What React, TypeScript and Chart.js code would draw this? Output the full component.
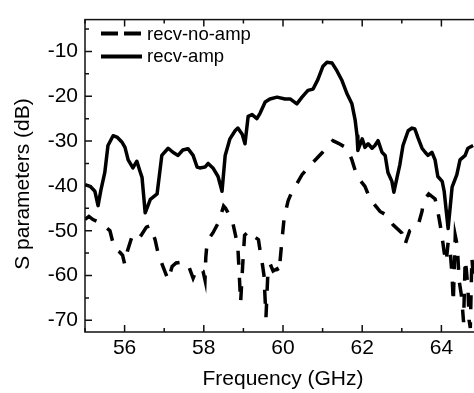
import React, { useEffect, useRef } from "react";
import { Chart, registerables } from "chart.js";

Chart.register(...registerables);

// ---- data ----
const FREQ_AMP = [
  55.0, 55.13, 55.25, 55.33, 55.4, 55.5, 55.58, 55.71, 55.82, 55.93, 56.01, 56.09, 56.21, 56.31, 56.38, 56.44,
  56.52, 56.65, 56.82, 56.94, 57.1, 57.22, 57.35, 57.47, 57.6, 57.73, 57.83, 57.9, 58.03, 58.11, 58.23, 58.36,
  58.46, 58.54, 58.66, 58.79, 58.86, 58.97, 59.04, 59.12, 59.22, 59.34, 59.42, 59.55, 59.67, 59.85, 60.05,
  60.18, 60.35, 60.48, 60.63, 60.76, 60.88, 61.01, 61.11, 61.24, 61.36, 61.49, 61.62, 61.74, 61.82, 61.87,
  61.89, 62.0, 62.07, 62.15, 62.25, 62.32, 62.4, 62.5, 62.58, 62.65, 62.75, 62.8, 62.88, 62.95, 63.03, 63.16,
  63.26, 63.33, 63.41, 63.51, 63.59, 63.66, 63.76, 63.84, 63.91, 64.02, 64.07, 64.17, 64.27, 64.39, 64.47,
  64.6, 64.67, 64.8,
];
const SPAR_AMP = [
  -39.7, -40.1, -41.2, -44.4, -41.0, -37.0, -31.0, -28.8, -29.2, -30.2, -31.4, -34.2, -36.0, -34.5, -36.5, -38.1,
  -46.0, -43.0, -41.8, -33.2, -31.6, -32.5, -33.2, -32.0, -31.7, -33.2, -35.8, -36.0, -35.8, -35.0, -36.0, -37.9,
  -41.2, -33.2, -29.5, -27.7, -27.1, -28.5, -30.6, -24.5, -24.1, -25.0, -23.8, -21.3, -20.6, -20.2, -20.6,
  -20.6, -21.7, -20.2, -18.7, -18.4, -16.3, -13.3, -12.4, -12.6, -14.3, -16.5, -19.5, -21.7, -25.2, -28.8,
  -32.1, -29.5, -31.4, -30.6, -31.6, -31.0, -29.9, -32.5, -33.2, -37.0, -39.0, -41.4, -38.1, -35.3, -31.0, -27.7,
  -27.1, -27.3, -29.3, -31.6, -32.5, -33.2, -32.5, -34.2, -37.9, -39.0, -41.2, -49.5, -40.3, -37.5, -34.2,
  -33.2, -31.6, -31.0,
];
const FREQ_NOAMP = [
  55.0, 55.1, 55.2, 55.33, 55.45, 55.63, 55.7, 55.76, 55.88, 55.95, 56.0, 56.07, 56.18, 56.3, 56.42, 56.55,
  56.64, 56.77, 56.85, 56.97, 57.1, 57.2, 57.3, 57.45, 57.6, 57.73, 57.83, 57.92, 57.98, 58.03, 58.05, 58.08,
  58.15, 58.23, 58.38, 58.5, 58.55, 58.72, 58.8, 58.86, 58.88, 58.93, 58.98, 59.03, 59.15, 59.3, 59.38, 59.43,
  59.48, 59.52, 59.57, 59.62, 59.68, 59.75, 59.85, 59.9, 59.97, 60.03, 60.13, 60.22, 60.35, 60.48, 60.73, 61.0,
  61.26, 61.4, 61.62, 61.74, 61.87, 62.07, 62.2, 62.45, 62.63, 62.78, 63.0, 63.08, 63.2, 63.33, 63.4, 63.51,
  63.55, 63.68, 63.84, 63.91, 63.97, 64.02, 64.07, 64.12, 64.17, 64.22, 64.27, 64.3, 64.35, 64.4, 64.45, 64.5,
  64.53, 64.56, 64.6, 64.63, 64.67, 64.7, 64.73, 64.77, 64.82,
];
const SPAR_NOAMP = [
  -47.5, -46.8, -47.5, -48.0, -48.7, -50.0, -52.5, -54.2, -54.8, -55.5, -57.4, -54.6, -51.5, -52.3, -51.0, -49.2,
  -48.9, -52.0, -55.2, -58.0, -61.0, -58.0, -57.2, -57.0, -57.5, -60.6, -58.5, -58.7, -59.0, -61.0, -56.0, -53.0,
  -51.5, -50.5, -48.0, -44.5, -45.0, -47.7, -51.0, -53.7, -57.0, -66.0, -58.0, -51.0, -50.0, -51.5, -52.0, -55.0,
  -57.5, -60.0, -69.3, -59.0, -57.5, -59.0, -58.5, -59.3, -52.5, -47.0, -43.3, -41.4, -39.5, -37.5, -35.0, -32.5,
  -29.9, -30.5, -31.6, -34.2, -37.9, -40.1, -43.0, -45.7, -46.6, -48.7, -50.5, -53.1, -50.0, -49.4, -49.2, -45.7,
  -43.3, -41.8, -42.9, -45.7, -48.7, -51.6, -54.8, -57.0, -52.6, -54.4, -60.0, -66.0, -51.1, -53.3, -61.3, -64.1,
  -67.0, -70.4, -56.5, -58.7, -62.8, -70.0, -71.7, -56.0, -62.0,
];

const SERIES_NAMES = ["recv-no-amp", "recv-amp"];
const X_TICKS = [56, 58, 60, 62, 64];
const X_MINOR = [55, 57, 59, 61, 63, 65];
const Y_TICKS = [-10, -20, -30, -40, -50, -60, -70];
const Y_MINOR = [-5, -15, -25, -35, -45, -55, -65];
const X_TITLE = "Frequency (GHz)";
const Y_TITLE = "S parameters (dB)";
const X_MIN = 55;
const X_MAX = 65;
const Y_MIN = -72.6;
const Y_MAX = -2.9;

const FONT = '"Liberation Sans", Arial, Helvetica, sans-serif';

const framePlugin = {
  id: "frameTicksLegend",
  afterDraw(chart: any) {
    const { ctx, chartArea: a, scales } = chart;
    const xs = scales.x;
    const ys = scales.y;
    ctx.save();
    ctx.strokeStyle = "#111";
    ctx.lineWidth = 1.5;
    ctx.strokeRect(a.left, a.top, a.right - a.left, a.bottom - a.top);

    const vtick = (v: number, len: number) => {
      const p = xs.getPixelForValue(v);
      ctx.beginPath();
      ctx.moveTo(p, a.bottom);
      ctx.lineTo(p, a.bottom - len);
      ctx.moveTo(p, a.top);
      ctx.lineTo(p, a.top + len);
      ctx.stroke();
    };
    const htick = (v: number, len: number) => {
      const p = ys.getPixelForValue(v);
      ctx.beginPath();
      ctx.moveTo(a.left, p);
      ctx.lineTo(a.left + len, p);
      ctx.moveTo(a.right, p);
      ctx.lineTo(a.right - len, p);
      ctx.stroke();
    };
    X_TICKS.forEach((v) => vtick(v, 7));
    X_MINOR.forEach((v) => vtick(v, 4));
    Y_TICKS.forEach((v) => htick(v, 7));
    Y_MINOR.forEach((v) => htick(v, 4));

    // axis titles
    ctx.fillStyle = "#000";
    ctx.font = `21px ${FONT}`;
    ctx.textAlign = "center";
    ctx.textBaseline = "alphabetic";
    ctx.fillText(X_TITLE, (a.left + a.right) / 2, 385);
    ctx.save();
    ctx.translate(29, 184);
    ctx.rotate(-Math.PI / 2);
    ctx.fillText(Y_TITLE, 0, 0);
    ctx.restore();

    // legend
    ctx.strokeStyle = "#000";
    ctx.lineWidth = 4;
    ctx.setLineDash([17, 6]);
    ctx.beginPath();
    ctx.moveTo(101, 33.5);
    ctx.lineTo(142, 33.5);
    ctx.stroke();
    ctx.setLineDash([]);
    ctx.beginPath();
    ctx.moveTo(101, 56.5);
    ctx.lineTo(142, 56.5);
    ctx.stroke();
    ctx.font = `18.5px ${FONT}`;
    ctx.textAlign = "left";
    ctx.fillText(SERIES_NAMES[0], 147, 39.5);
    ctx.fillText(SERIES_NAMES[1], 147, 62);
    ctx.restore();
  },
};

export default function App() {
  const ref = useRef<HTMLCanvasElement | null>(null);

  useEffect(() => {
    document.body.style.margin = "0";
    const canvas = ref.current;
    if (!canvas) return;
    const chart = new Chart(canvas, {
      type: "line",
      data: {
        datasets: [
          {
            label: SERIES_NAMES[0],
            data: FREQ_NOAMP.map((f, i) => ({ x: f, y: SPAR_NOAMP[i] })),
            borderColor: "#000",
            borderWidth: 3.5,
            borderDash: [14, 13],
            pointRadius: 0,
            tension: 0,
            fill: false,
          },
          {
            label: SERIES_NAMES[1],
            data: FREQ_AMP.map((f, i) => ({ x: f, y: SPAR_AMP[i] })),
            borderColor: "#000",
            borderWidth: 3.5,
            pointRadius: 0,
            tension: 0,
            fill: false,
            borderJoinStyle: "round",
          },
        ],
      },
      options: {
        animation: false,
        responsive: false,
        maintainAspectRatio: false,
        devicePixelRatio: 1,
        layout: { padding: { top: 10, right: 9, left: 0, bottom: 0 } },
        plugins: { legend: { display: false }, tooltip: { enabled: false } },
        scales: {
          x: {
            type: "linear",
            min: X_MIN,
            max: X_MAX,
            grid: { display: false, drawTicks: false },
            border: { display: false },
            afterBuildTicks: (s: any) => {
              s.ticks = X_TICKS.map((v) => ({ value: v }));
            },
            afterFit: (s: any) => {
              s.height = 61;
            },
            ticks: {
              color: "#000",
              font: { size: 21, family: FONT },
              padding: 4,
              maxRotation: 0,
              autoSkip: false,
            },
          },
          y: {
            type: "linear",
            min: Y_MIN,
            max: Y_MAX,
            grid: { display: false, drawTicks: false },
            border: { display: false },
            afterBuildTicks: (s: any) => {
              s.ticks = Y_TICKS.map((v) => ({ value: v }));
            },
            afterFit: (s: any) => {
              s.width = 85;
            },
            ticks: {
              color: "#000",
              font: { size: 21, family: FONT },
              padding: 7,
              autoSkip: false,
            },
          },
        },
      },
      plugins: [framePlugin],
    } as any);
    return () => chart.destroy();
  }, []);

  return (
    <div style={{ width: 474, height: 393, overflow: "hidden", position: "relative", background: "#fff" }}>
      <canvas ref={ref} width={490} height={393} style={{ width: 490, height: 393, display: "block" }} />
    </div>
  );
}
